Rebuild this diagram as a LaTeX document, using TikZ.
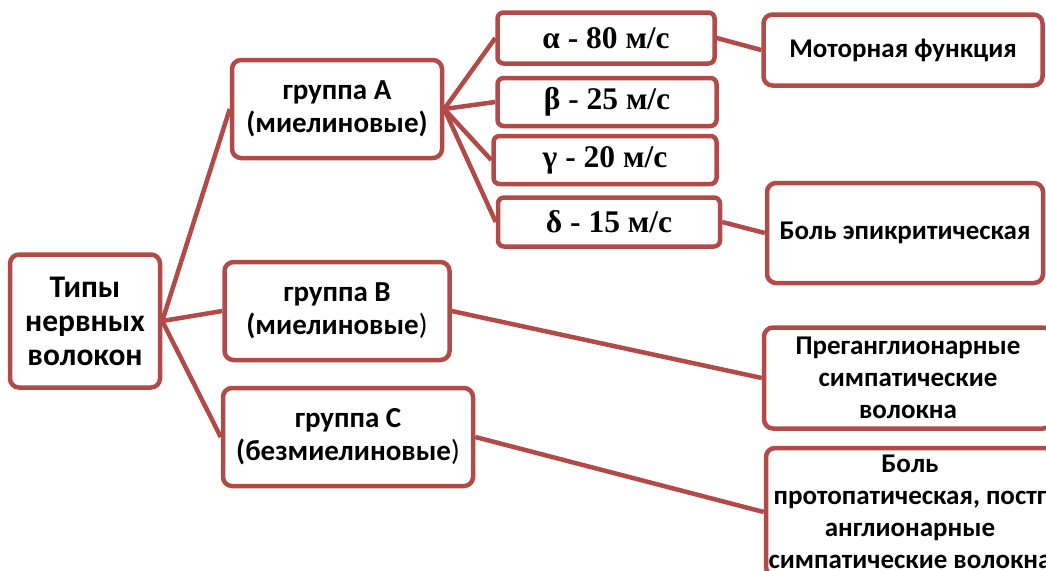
\documentclass[tikz,border=0pt]{standalone}
\usepackage{fontspec}
\setmainfont{Carlito}
\newfontfamily\timesfont{Liberation Serif}
\definecolor{fibrered}{RGB}{178, 74, 72}

\begin{document}
\begin{tikzpicture}[x=1pt, y=-1pt,
  box/.style={draw=fibrered, fill=white, line width=4.5pt, rounded corners=9pt, align=center, inner sep=0pt, font=\bfseries\fontsize{29}{33}\selectfont},
  speedbox/.style={box, rounded corners=6pt, font=\timesfont\bfseries\fontsize{31.5}{32}\selectfont},
  outcomebox/.style={box, font=\bfseries\fontsize{27}{32}\selectfont},
  link/.style={draw=fibrered, line width=4.5pt}]
  \useasboundingbox (0,0) rectangle (1046,570);
  \clip (0,0) rectangle (1046,570);

  \node[box, minimum width=150pt, minimum height=133pt, font=\bfseries\fontsize{31.5}{34}\selectfont] (types) at (85,321) {Типы\\нервных\\волокон};

  \node[box, minimum width=210pt, minimum height=98pt] (grpA) at (337,109) {группа A\\(миелиновые)};
  \node[box, minimum width=225pt, minimum height=98pt] (grpB) at (337,311) {группа B\\(миелиновые{\mdseries )}};
  \node[box, minimum width=250pt, minimum height=98pt] (grpC) at (348,437) {группа C\\(безмиелиновые{\mdseries )}};

  \node[speedbox, minimum width=217pt, minimum height=51pt] (alpha) at (606,38) {α - 80 м/с};
  \node[speedbox, minimum width=219pt, minimum height=48pt] (beta) at (607,102) {β - 25 м/с};
  \node[speedbox, minimum width=223pt, minimum height=48pt] (gamma) at (605,160) {γ - 20 м/с};
  \node[speedbox, minimum width=222pt, minimum height=49pt] (delta) at (609,222) {δ - 15 м/с};

  \node[outcomebox, minimum width=279pt, minimum height=71pt] (motor) at (903,50) {Моторная функция};
  \node[outcomebox, minimum width=276pt, minimum height=100pt] (epicrit) at (905,233) {Боль эпикритическая};
  \node[outcomebox, minimum width=288pt, minimum height=101pt] (pregang) at (908,378) {Преганглионарные\\симпатические\\волокна};
  \node[outcomebox, minimum width=288pt, minimum height=128pt] (protopat) at (910,512) {Боль\\протопатическая, постг\\англионарные\\симпатические волокна};

  \draw[link] (types.east) -- (grpA.west);
  \draw[link] (types.east) -- (grpB.west);
  \draw[link] (types.east) -- (grpC.west);
  \foreach \speed in {alpha, beta, gamma, delta}
    \draw[link] (grpA.east) -- (\speed.west);
  \draw[link] (alpha.east) -- (motor.west);
  \draw[link] (delta.east) -- (epicrit.west);
  \draw[link] (grpB.east) -- (pregang.west);
  \draw[link] (grpC.east) -- (protopat.west);
\end{tikzpicture}
\end{document}
